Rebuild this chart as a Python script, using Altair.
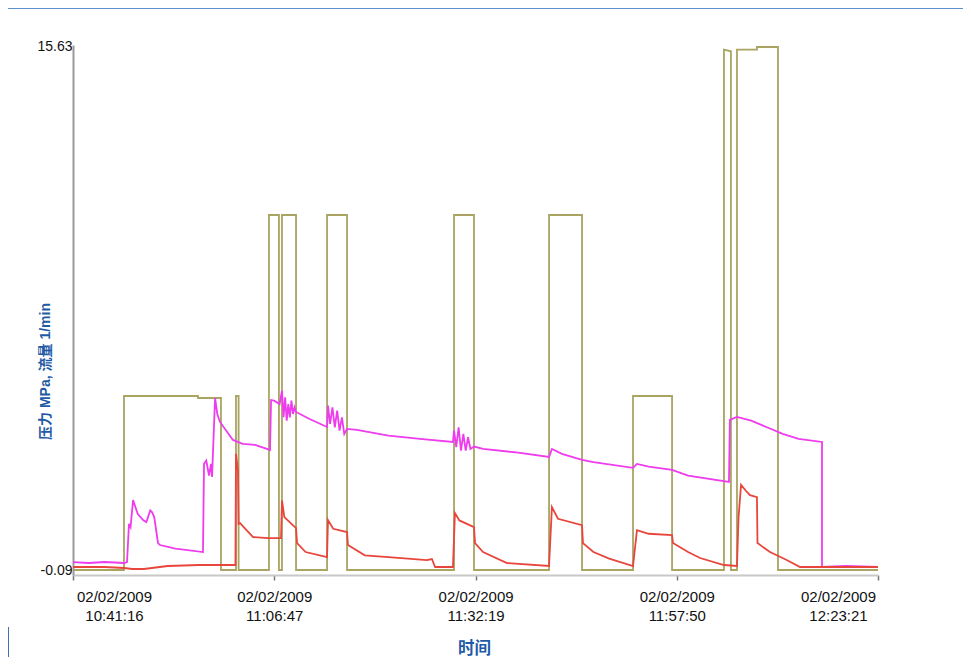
import altair as alt
import pandas as pd

# time axis: minutes after 02/02/2009 10:41:16
flow_t = [0, 6.47, 6.47, 15.85, 15.85, 18.77, 18.77, 20.67, 20.67, 21.0, 21.0,
          24.85, 24.85, 26.12, 26.12, 26.5, 26.5, 28.28, 28.28, 32.21, 32.21, 34.75, 34.75,
          48.31, 48.31, 50.85, 50.85, 60.36, 60.36, 64.55, 64.55, 71.01, 71.01, 75.96, 75.96,
          82.55, 82.55, 83.44, 83.44, 84.2, 84.2, 86.74, 86.74, 89.4, 89.4, 102.08]
flow_v = [-0.09, -0.09, 5.14, 5.14, 5.08, 5.08, -0.09, -0.09, 5.14, 5.14, -0.09,
          -0.09, 10.58, 10.58, -0.09, -0.09, 10.58, 10.58, -0.09, -0.09, 10.58, 10.58, -0.09,
          -0.09, 10.58, 10.58, -0.09, -0.09, 10.58, 10.58, -0.09, -0.09, 5.14, 5.14, -0.09,
          -0.09, 15.55, 15.5, -0.09, -0.09, 15.55, 15.55, 15.63, 15.63, -0.09, -0.09]

p1_t = [0, 2, 4, 6.5, 6.85, 7.1, 7.3, 7.61, 8.2, 8.88, 9.3, 9.8, 10.02, 10.3, 10.78, 11.03, 13,
        16.49, 16.61, 16.9, 17.25, 17.5, 17.63, 18.01, 18.3, 18.64, 20.29, 21.5, 23.08, 24.98,
        25.11, 25.5, 26.2, 26.5, 26.7, 26.9, 27.1, 27.3, 27.5, 27.7, 27.9, 28.1, 28.28, 30,
        32.21, 32.34, 32.6, 32.9, 33.2, 33.5, 33.8, 34.1, 34.4, 34.75, 36, 40, 44,
        48.19, 48.31, 48.6, 48.9, 49.2, 49.5, 49.8, 50.1, 50.4, 50.85, 52, 56,
        60.36, 60.74, 62, 64.55, 66, 71.01, 71.52, 73, 75.96, 78, 83.19, 83.3, 84.2, 86, 88, 90,
        92, 94.98, 94.98, 98, 102.08]
p1_v = [0.15, 0.12, 0.15, 0.12, 0.15, 1.3, 1.2, 2.01, 1.6, 1.41, 1.35, 1.7, 1.65, 1.5, 0.72, 0.66,
        0.55, 0.45, 3.1, 3.2, 2.75, 3.1, 2.71, 5.08, 4.6, 4.36, 3.82, 3.7, 3.67, 3.52,
        5.02, 5.0, 4.9, 5.3, 4.5, 5.1, 4.4, 4.9, 4.5, 5.0, 4.6, 4.8, 4.66, 4.45,
        4.21, 4.85, 4.3, 4.8, 4.2, 4.7, 4.1, 4.5, 4.0, 4.15, 4.12, 3.95, 3.85,
        3.76, 4.1, 3.6, 4.2, 3.5, 4.0, 3.5, 3.9, 3.55, 3.62, 3.55, 3.45,
        3.31, 3.55, 3.4, 3.22, 3.15, 2.98, 3.1, 3.02, 2.92, 2.75, 2.56, 4.42, 4.51, 4.4, 4.2, 4.0,
        3.85, 3.76, 0.0, 0.03, 0.0]

p2_t = [0, 4, 6.5, 7.5, 9, 10, 12, 16, 20.6, 20.67, 20.92, 21.0, 21.18, 22.83, 24.73, 26.38,
        26.5, 26.8, 28.28, 28.41, 29.5, 32.21, 32.34, 33, 34.75, 34.87, 37, 40, 44.89, 45.52,
        45.91, 48.19, 48.44, 49, 50.85, 50.98, 52, 55.04, 60.36, 60.74, 61.5, 64.55, 64.67, 66,
        68, 71.01, 71.52, 73, 75.96, 76.09, 78, 79.51, 82.55, 84.2, 84.4, 84.71, 85.3, 85.85,
        86.74, 86.8, 88.39, 90.5, 92.2, 102.08]
p2_v = [0.0, 0.0, -0.03, -0.06, -0.06, -0.03, 0.03, 0.06, 0.06, 3.4, 2.9, 1.3, 1.32, 0.9, 0.87, 0.87,
        2.0, 1.5, 1.17, 0.72, 0.45, 0.3, 1.41, 1.15, 1.05, 0.66, 0.35, 0.3, 0.21, 0.24,
        0.0, 0.0, 1.62, 1.4, 1.2, 0.72, 0.45, 0.12, 0.03, 1.8, 1.45, 1.26, 0.72, 0.45,
        0.25, 0.03, 1.11, 1.0, 0.96, 0.72, 0.45, 0.27, 0.06, 0.03, 1.5, 2.47, 2.3, 2.16,
        2.1, 0.72, 0.45, 0.21, 0.0, 0.0]

tick_times = ["10:41:16", "11:06:47", "11:32:19", "11:57:50", "12:23:21"]
y_ticks = [-0.09, 15.63]

start = pd.Timestamp("2009-02-02 10:41:16")


def to_time(mins):
    return [start + pd.to_timedelta(round(m * 60), unit="s") for m in mins]


frames = []
for name, t, v in [("flow", flow_t, flow_v), ("p1", p1_t, p1_v), ("p2", p2_t, p2_v)]:
    frames.append(pd.DataFrame({"time": to_time(t), "value": v, "series": name,
                                "i": list(range(len(t)))}))
df = pd.concat(frames, ignore_index=True)

tick_vals = []
for s in tick_times:
    h, m, sec = (int(p) for p in s.split(":"))
    tick_vals.append(alt.DateTime(year=2009, month=2, date=2, hours=h, minutes=m, seconds=sec))
dom = [tick_vals[0], tick_vals[-1]]

x_enc = alt.X("time:T", scale=alt.Scale(domain=dom, nice=False),
              axis=alt.Axis(values=tick_vals, title="时间", grid=False,
                            labelExpr="[timeFormat(datum.value, '%m/%d/%Y'), timeFormat(datum.value, '%H:%M:%S')]",
                            labelFont="Liberation Sans", labelFontSize=15, labelColor="#111",
                            labelLineHeight=19, labelPadding=9, labelFlush=False,
                            labelOffset={"condition": [{"test": "datum.index == 0", "value": 41},
                                                       {"test": "datum.index == 1", "value": -40}],
                                         "value": 0},
                            tickSize=5, tickColor="#777", tickWidth=1.5,
                            domainColor="#c8c8c8", domainWidth=2,
                            titleFont="Liberation Sans, Noto Sans CJK SC", titleFontSize=16.5,
                            titleFontWeight="bold",
                            titleColor="#1f5aa6", titleX=401, titleY=73, titleBaseline="middle",
                            titleAnchor="start", titleAlign="center"))
y_enc = alt.Y("value:Q", scale=alt.Scale(domain=[-0.24, 15.69], nice=False, zero=False),
              axis=alt.Axis(values=y_ticks, title="压力 MPa, 流量 1/min", grid=False,
                            labelExpr="datum.value < 0 ? '-' + format(-datum.value, '.2f') : format(datum.value, '.2f')",
                            labelFont="Liberation Sans", labelFontSize=14, labelColor="#111",
                            labelPadding=1, ticks=False, domainColor="#999", domainWidth=2,
                            titleFont="Liberation Sans, Noto Sans CJK SC", titleFontSize=14,
                            titleFontWeight="bold",
                            titleColor="#1f5aa6", titleAngle=270, titleX=-28, titleY=326,
                            titleAlign="center", titleBaseline="middle", titleAnchor="start"))

color = alt.Color("series:N", scale=alt.Scale(domain=["flow", "p1", "p2"],
                                               range=["#a9a462", "#ee3cee", "#e8463c"]), legend=None)

lines = alt.Chart(df).mark_line(strokeWidth=1.8, interpolate="linear").encode(
    x=x_enc, y=y_enc, color=color, order="i:Q", detail="series:N")

top_line = alt.Chart(pd.DataFrame({"a": [0]})).mark_rule(color="#5b8fd0", strokeWidth=1.2).encode(
    x=alt.value(-69), x2=alt.value(900), y=alt.value(-36.5))
left_line = alt.Chart(pd.DataFrame({"a": [0]})).mark_rule(color="#3f6fc0", strokeWidth=2).encode(
    x=alt.value(-65), y=alt.value(582), y2=alt.value(625))

chart = alt.layer(lines, top_line, left_line).properties(
    width=805, height=530,
    background="white",
    autosize=alt.AutoSizeParams(type="none"),
    padding={"left": 65, "top": 37, "right": 85, "bottom": 82},
).configure_view(strokeWidth=0, stroke="transparent")

chart.save("out.html", embed_options={"renderer": "svg", "actions": False})
